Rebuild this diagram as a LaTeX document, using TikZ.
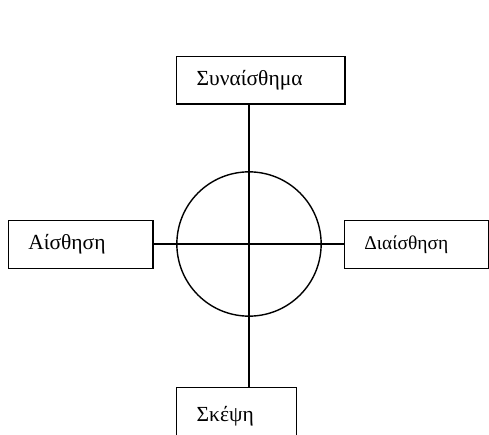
\documentclass[tikz,border=0pt]{standalone}
\usepackage{fontspec}
\setmainfont{Liberation Serif}
\usepackage{tikz}
\usetikzlibrary{positioning}

\begin{document}
\begin{tikzpicture}[x=1pt, y=-1pt, line width=1.4pt,
    func/.style={draw, rectangle, minimum height=47.6pt, inner xsep=20pt, align=left,
                 font=\fontsize{21.5}{25}\selectfont}]
    \useasboundingbox (0,0) rectangle (489,434);

    % Central circle
    \node[draw, circle, minimum size=144.3pt, inner sep=0pt] (core) at (249,244) {};

    % The four functions
    \node[func, minimum width=168.3pt, text width=128.3pt] (syn) at (260.85,80) {Συναίσθημα};
    \node[func, minimum width=144.7pt, text width=104.7pt] (ais) at (80.65,244.5) {Αίσθηση};
    \node[func, minimum width=144pt, text width=104pt, font=\fontsize{19.5}{23}\selectfont] (dia) at (416.3,244.5) {Διαίσθηση};
    \node[func, minimum width=120pt, minimum height=56pt, text width=80pt] (ske) at (236.7,415.7) {Σκέψη};

    % Axes through the circle
    \draw (core |- syn.south) -- (core |- ske.north);
    \draw (ais.east |- core) -- (dia.west |- core);
\end{tikzpicture}
\end{document}
